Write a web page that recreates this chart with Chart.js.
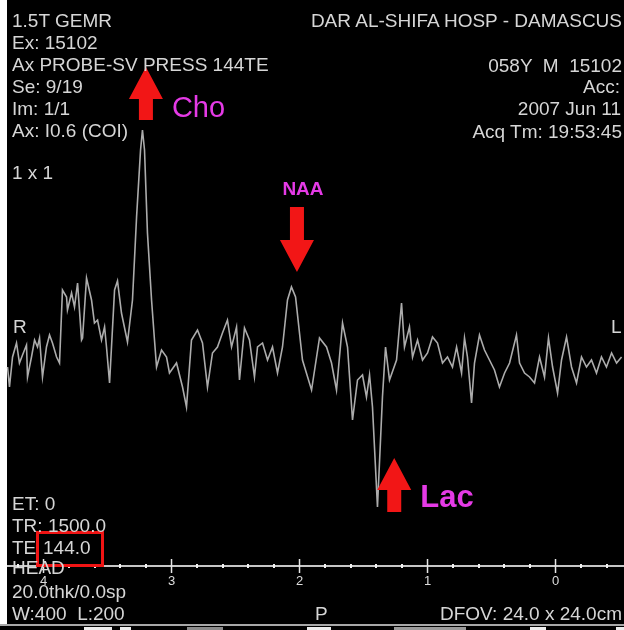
<!DOCTYPE html>
<html>
<head>
<meta charset="utf-8">
<script src="https://cdn.jsdelivr.net/npm/chart.js@4.4.1/dist/chart.umd.min.js"></script>
<style>
  html, body { margin: 0; padding: 0; background: #fff; }
  #wrap { position: relative; width: 624px; height: 630px; overflow: hidden; }
  #spec { position: absolute; left: 0; top: 0; }
  .t { position: absolute; color: #d6d6d6; font: 19px "Liberation Sans", Arial, sans-serif;
       line-height: 19px; white-space: pre; }
  .r { text-align: right; }
</style>
</head>
<body>
<div id="wrap">
  <canvas id="spec" width="624" height="630"></canvas>

  <div class="t" style="left:12px;top:11px">1.5T GEMR</div>
  <div class="t" style="left:12px;top:33px">Ex: 15102</div>
  <div class="t" style="left:12px;top:55px">Ax PROBE-SV PRESS 144TE</div>
  <div class="t" style="left:12px;top:77px">Se: 9/19</div>
  <div class="t" style="left:12px;top:99px">Im: 1/1</div>
  <div class="t" style="left:12px;top:121px">Ax: I0.6 (COI)</div>
  <div class="t" style="left:12px;top:163px">1 x 1</div>
  <div class="t" style="left:13px;top:317px">R</div>

  <div class="t r" style="right:2px;top:11px">DAR AL-SHIFA HOSP - DAMASCUS</div>
  <div class="t r" style="right:2px;top:56px">058Y  M  15102</div>
  <div class="t r" style="right:4px;top:77px">Acc:</div>
  <div class="t r" style="right:3px;top:99px">2007 Jun 11</div>
  <div class="t r" style="right:2px;top:122px">Acq Tm: 19:53:45</div>
  <div class="t" style="left:611px;top:317px">L</div>

  <div class="t" style="left:12px;top:494px">ET: 0</div>
  <div class="t" style="left:12px;top:516px">TR: 1500.0</div>
  <div class="t" style="left:12px;top:538px">TE</div>
  <div class="t" style="left:43px;top:538px">144.0</div>
  <div class="t" style="left:12px;top:558px">HEAD</div>
  <div class="t" style="left:12px;top:582px">20.0thk/0.0sp</div>
  <div class="t" style="left:12px;top:604px">W:400  L:200</div>
  <div class="t" style="left:315px;top:604px">P</div>
  <div class="t r" style="right:2px;top:604px">DFOV: 24.0 x 24.0cm</div>
</div>

<script>
// chemical shift (ppm) and signal (arbitrary units, baseline = 0)
const ppm = [
  4.281, 4.266, 4.242, 4.211, 4.188, 4.164, 4.133, 4.125, 4.094, 4.070,
  4.047, 4.031, 4.008, 3.977, 3.953, 3.930, 3.898, 3.875, 3.852, 3.820,
  3.813, 3.781, 3.758, 3.734, 3.703, 3.695, 3.664, 3.625, 3.602, 3.578,
  3.547, 3.523, 3.508, 3.484, 3.445, 3.422, 3.391, 3.344, 3.305, 3.273,
  3.242, 3.227, 3.211, 3.188, 3.156, 3.133, 3.117, 3.078, 3.039, 3.016,
  2.961, 2.914, 2.883, 2.844, 2.797, 2.758, 2.719, 2.680, 2.641, 2.602,
  2.563, 2.531, 2.492, 2.469, 2.430, 2.391, 2.352, 2.328, 2.289, 2.250,
  2.211, 2.172, 2.133, 2.094, 2.063, 2.031, 1.977, 1.906, 1.844, 1.789,
  1.750, 1.711, 1.664, 1.625, 1.586, 1.547, 1.508, 1.477, 1.453, 1.430,
  1.391, 1.352, 1.328, 1.297, 1.242, 1.203, 1.180, 1.141, 1.117, 1.078,
  1.039, 1.000, 0.961, 0.922, 0.883, 0.844, 0.805, 0.773, 0.734, 0.711,
  0.688, 0.656, 0.633, 0.594, 0.555, 0.516, 0.477, 0.438, 0.398, 0.359,
  0.305, 0.281, 0.242, 0.203, 0.164, 0.125, 0.086, 0.055, 0.023, -0.016,
  -0.047, -0.086, -0.125, -0.164, -0.203, -0.242, -0.281, -0.320, -0.359, -0.398,
  -0.438, -0.477, -0.516
];
const signal = [
  -12, -32, -2, 12, -8, 0, 10, -22, -2, 15,
  8, 17, -22, 8, 20, 12, -2, -8, 65, 58,
  45, 62, 48, 72, 15, 17, 77, 55, 32, 35,
  15, 28, 8, -28, 65, 74, 42, 13, 55, 138,
  205, 225, 205, 122, 55, 15, -12, 5, -2, -18,
  -8, -32, -52, 15, 25, 12, -32, 2, 8, 22,
  35, 8, 28, -25, 27, 15, -22, 8, 12, -5,
  8, -18, 8, 55, 68, 58, -5, -35, 17, 8,
  -8, -35, 32, 8, -65, -25, -20, -42, -20, -52,
  -152, -42, 8, -25, -5, 52, 8, 28, -2, 15,
  -5, 2, 18, 12, -8, -2, -12, 8, -18, 17,
  -2, -48, -8, 20, 5, -5, -15, -32, -18, -8,
  20, -8, -18, -22, -28, -2, -22, 17, -12, -38,
  -5, 18, -12, -28, -2, -12, -5, -18, -2, -12,
  2, -8, -2
];

const majorTicks = [4, 3, 2, 1, 0];
const tickLabels = ["4", "3", "2", "1", "0"];
const minorTicks = [4.2, 3.8, 3.6, 3.4, 3.2, 2.8, 2.6, 2.4, 2.2, 1.8, 1.6, 1.4, 1.2,
                    0.8, 0.6, 0.4, 0.2, -0.2, -0.4];
const axisLevel = -211;

const peakNames = ["Cho", "NAA", "Lac"];
const arrowPpm = [3.20, 2.02, 1.26];
const arrowTip = [288, 83, -103];
const arrowDir = ["up", "down", "up"];

// page furniture (white frame, black panel, strip below)
const panelPlugin = {
  id: "panel",
  beforeDraw(chart) {
    const c = chart.ctx;
    c.save();
    c.fillStyle = "#ffffff";
    c.fillRect(0, 0, 624, 630);
    c.fillStyle = "#000000";
    c.fillRect(7, 0, 617, 624);
    c.fillStyle = "#a8a8a8";
    c.fillRect(0, 624, 624, 2);
    c.fillStyle = "#000000";
    c.fillRect(0, 626, 624, 4);
    [[84, 28, "#eeeeee"], [120, 11, "#eeeeee"], [187, 36, "#8a8a8a"], [307, 24, "#eeeeee"],
     [394, 72, "#9a9a9a"], [530, 16, "#eeeeee"], [616, 8, "#eeeeee"]].forEach(([bx, bw, col]) => {
      c.fillStyle = col;
      c.fillRect(bx, 627, bw, 3);
    });
    c.restore();
  }
};

const axisPlugin = {
  id: "ppmAxis",
  afterDatasetsDraw(chart) {
    const { ctx, scales: { x, y } } = chart;
    const yp = y.getPixelForValue(axisLevel);
    ctx.save();
    ctx.strokeStyle = "#c6c6c6";
    ctx.lineWidth = 2;
    ctx.beginPath();
    ctx.moveTo(7, yp);
    ctx.lineTo(624, yp);
    ctx.stroke();

    ctx.fillStyle = "#f2f2f2";
    minorTicks.forEach((v) => {
      const xp = x.getPixelForValue(v);
      ctx.fillRect(Math.round(xp) - 1, yp - 2, 2, 4);
    });

    ctx.strokeStyle = "#e6e6e6";
    ctx.lineWidth = 1.5;
    ctx.font = "13px 'Liberation Sans', Arial, sans-serif";
    ctx.textAlign = "center";
    ctx.fillStyle = "#dcdcdc";
    majorTicks.forEach((v, i) => {
      const xp = x.getPixelForValue(v);
      ctx.beginPath();
      ctx.moveTo(xp, yp - 7);
      ctx.lineTo(xp, yp + 7);
      ctx.stroke();
      ctx.fillText(tickLabels[i], xp, yp + 19);
    });
    ctx.restore();
  }
};

const arrowPlugin = {
  id: "peakArrows",
  afterDatasetsDraw(chart) {
    const { ctx, scales: { x, y } } = chart;
    const headLen = 32, headHalf = 17, shaftHalf = 7;
    const shaftLen = [21, 33, 22];
    ctx.save();
    peakNames.forEach((name, i) => {
      const cx = x.getPixelForValue(arrowPpm[i]);
      const ty = y.getPixelForValue(arrowTip[i]);
      const s = arrowDir[i] === "up" ? 1 : -1;
      const by = ty + s * headLen;
      const ey = by + s * shaftLen[i];
      ctx.fillStyle = "#f21616";
      ctx.beginPath();
      ctx.moveTo(cx, ty);
      ctx.lineTo(cx + headHalf, by);
      ctx.lineTo(cx + shaftHalf, by);
      ctx.lineTo(cx + shaftHalf, ey);
      ctx.lineTo(cx - shaftHalf, ey);
      ctx.lineTo(cx - shaftHalf, by);
      ctx.lineTo(cx - headHalf, by);
      ctx.closePath();
      ctx.fill();

      ctx.fillStyle = "#e53ae6";
      if (name === "Cho") {
        ctx.font = "29px 'Liberation Sans', Arial, sans-serif";
        ctx.textAlign = "left";
        ctx.fillText(name, cx + 26, ty + 50);
      } else if (name === "NAA") {
        ctx.font = "bold 19px 'Liberation Sans', Arial, sans-serif";
        ctx.textAlign = "center";
        ctx.fillText(name, cx + 6, ty - 77);
      } else {
        ctx.font = "bold 31px 'Liberation Sans', Arial, sans-serif";
        ctx.textAlign = "left";
        ctx.fillText(name, cx + 26, ty + 49);
      }
    });

    // red box round the TE value
    ctx.strokeStyle = "#f01414";
    ctx.lineWidth = 3;
    ctx.strokeRect(37.5, 532.5, 65, 33);
    ctx.restore();
  }
};

new Chart(document.getElementById("spec"), {
  type: "line",
  data: {
    datasets: [{
      data: ppm.map((p, i) => ({ x: p, y: signal[i] })),
      borderColor: "#acacac",
      borderWidth: 1.6,
      pointRadius: 0,
      tension: 0,
      fill: false
    }]
  },
  options: {
    responsive: false,
    animation: false,
    layout: { padding: 0 },
    scales: {
      x: { type: "linear", reverse: true, min: -0.535, max: 4.340, display: false },
      y: { type: "linear", min: -275, max: 355, display: false }
    },
    plugins: {
      legend: { display: false },
      tooltip: { enabled: false }
    }
  },
  plugins: [panelPlugin, axisPlugin, arrowPlugin]
});
</script>
</body>
</html>
